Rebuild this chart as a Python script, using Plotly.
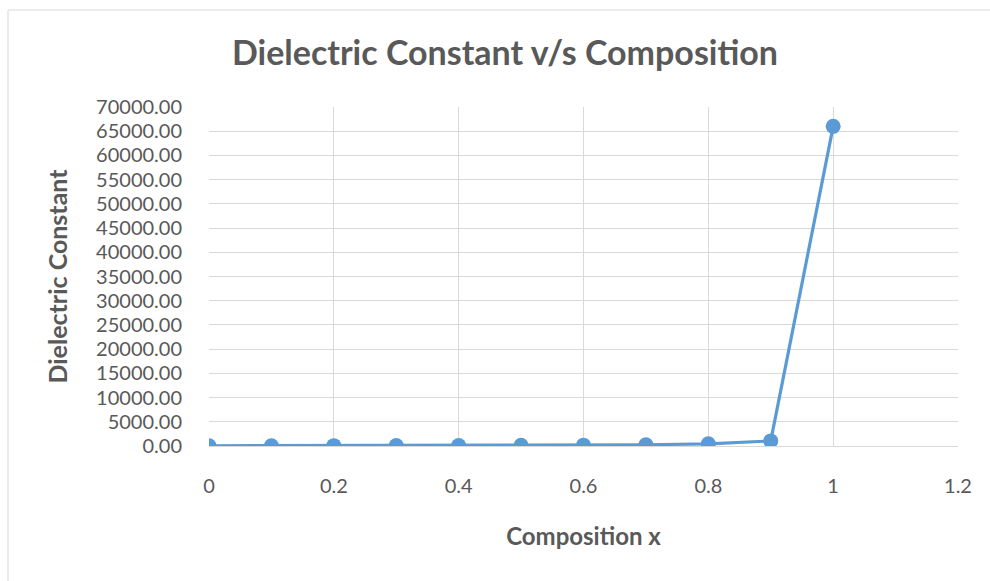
import plotly.graph_objects as go

# Composition x and measured dielectric constant
composition = [0, 0.1, 0.2, 0.3, 0.4, 0.5, 0.6, 0.7, 0.8, 0.9, 1.0]
dielectric_constant = [50, 60, 70, 90, 110, 140, 180, 260, 450, 1050, 66000]

x_ticks = [0, 0.2, 0.4, 0.6, 0.8, 1, 1.2]
x_tick_labels = ["0", "0.2", "0.4", "0.6", "0.8", "1", "1.2"]
y_ticks = list(range(0, 70001, 5000))
y_tick_labels = [f"{v:.2f}" for v in y_ticks]

TEXT = "#595959"
GRID = "#d9d9d9"
BLUE = "#5b9bd5"
FONT = "Lato"

fig = go.Figure(
    go.Scatter(
        x=composition,
        y=dielectric_constant,
        mode="lines+markers",
        line=dict(color=BLUE, width=3.2),
        marker=dict(color=BLUE, size=15),
        showlegend=False,
    )
)

fig.update_layout(
    width=990,
    height=581,
    margin=dict(l=209, r=32, t=107, b=135),
    paper_bgcolor="white",
    plot_bgcolor="white",
    font=dict(family=FONT, color=TEXT),
    title=dict(
        text="<b>Dielectric Constant v/s Composition</b>",
        x=505 / 990,
        xanchor="center",
        y=1 - 53 / 581,
        yanchor="middle",
        font=dict(family=FONT, size=34, color=TEXT),
    ),
    xaxis=dict(
        range=[0, 1.2],
        tickvals=x_ticks,
        ticktext=x_tick_labels,
        showgrid=True,
        gridcolor=GRID,
        gridwidth=1,
        zeroline=False,
        showline=True,
        linecolor=GRID,
        linewidth=1,
        ticks="outside",
        ticklen=22,
        tickcolor="rgba(0,0,0,0)",
        tickfont=dict(size=20, color=TEXT),
        title=dict(
            text="<b>Composition x</b>",
            font=dict(size=24, color=TEXT),
            standoff=32,
        ),
    ),
    yaxis=dict(
        range=[0, 70000],
        tickvals=y_ticks,
        ticktext=y_tick_labels,
        showgrid=True,
        gridcolor=GRID,
        gridwidth=1,
        zeroline=False,
        showline=False,
        ticks="outside",
        ticklen=22,
        tickcolor="rgba(0,0,0,0)",
        tickfont=dict(size=20, color=TEXT),
        title=dict(
            text="<b>Dielectric Constant</b>",
            font=dict(size=25, color=TEXT),
            standoff=21,
        ),
    ),
)

# chart-area border
fig.add_shape(
    type="rect",
    xref="paper",
    yref="paper",
    x0=(8 - 209) / 749,
    x1=(1010 - 209) / 749,
    y0=(446 - 620) / 339,
    y1=(446 - 10) / 339,
    line=dict(color=GRID, width=1),
    fillcolor="rgba(0,0,0,0)",
    layer="below",
)

fig.write_html("out.html")
